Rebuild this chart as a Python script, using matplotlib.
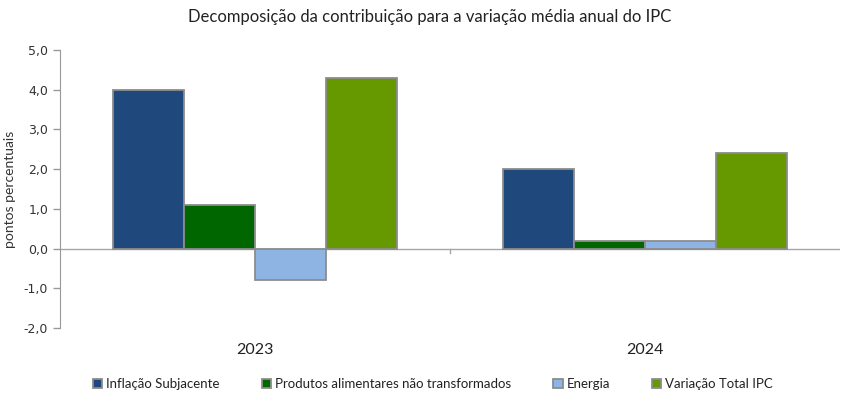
import matplotlib.pyplot as plt
import numpy as np

anos = ['2023', '2024']
series = ['Inflação Subjacente', 'Produtos alimentares não transformados',
          'Energia', 'Variação Total IPC']
inflacao_subjacente = [4.0, 2.0]
produtos_alimentares = [1.1, 0.2]
energia = [-0.8, 0.2]
variacao_total = [4.3, 2.4]
yticks = [-2, -1, 0, 1, 2, 3, 4, 5]

cores = ['#1F497D', '#006600', '#8DB4E2', '#669900']
valores = [inflacao_subjacente, produtos_alimentares, energia, variacao_total]

plt.rcParams['font.family'] = ['Lato', 'DejaVu Sans']

fig = plt.figure(figsize=(8.49, 3.98), dpi=100)
ax = fig.add_axes([60 / 849, 70 / 398, 780 / 849, 278 / 398])

x = np.arange(len(anos))
w = 0.182
for i, (nome, vals, cor) in enumerate(zip(series, valores, cores)):
    ax.bar(x + (i - 1.5) * w, vals, w, color=cor, edgecolor='#8c8c8c',
           linewidth=1.3, label=nome, zorder=3)

ax.set_xlim(-0.5, 1.5)
ax.set_ylim(-2, 5)
ax.set_yticks(yticks)
ax.set_yticklabels([f'{v:.1f}'.replace('.', ',') for v in yticks],
                   fontsize=9, color='#333333', family='DejaVu Sans')
ax.tick_params(axis='y', direction='out', length=5, color='#999999', width=1)
ax.axhline(0, color='#a6a6a6', linewidth=1, zorder=2)
ax.plot([0.5, 0.5], [0, -0.12], color='#a6a6a6', linewidth=1, clip_on=False)
ax.set_xticks([])
for sp in ['top', 'right', 'bottom']:
    ax.spines[sp].set_visible(False)
ax.spines['left'].set_color('#999999')

for xi, ano in zip(x, anos):
    ax.text(xi, -2.55, ano, ha='center', va='center', fontsize=11.5,
            color='#222222', transform=ax.transData)

ax.set_ylabel('pontos percentuais', fontsize=10, color='#333333')
ax.yaxis.set_label_coords(-0.056, 0.5)

fig.text(430 / 849, 1 - 17 / 398,
         'Decomposição da contribuição para a variação média anual do IPC',
         ha='center', va='center', fontsize=12, color='#222222')

fig.legend(loc='center', bbox_to_anchor=(433 / 849, 1 - 384 / 398), ncol=4,
           frameon=False, fontsize=9.5, handlelength=0.7, handleheight=0.7,
           handletextpad=0.3, columnspacing=3.2, labelcolor='#222222')

fig.savefig('out.png', dpi=100)
